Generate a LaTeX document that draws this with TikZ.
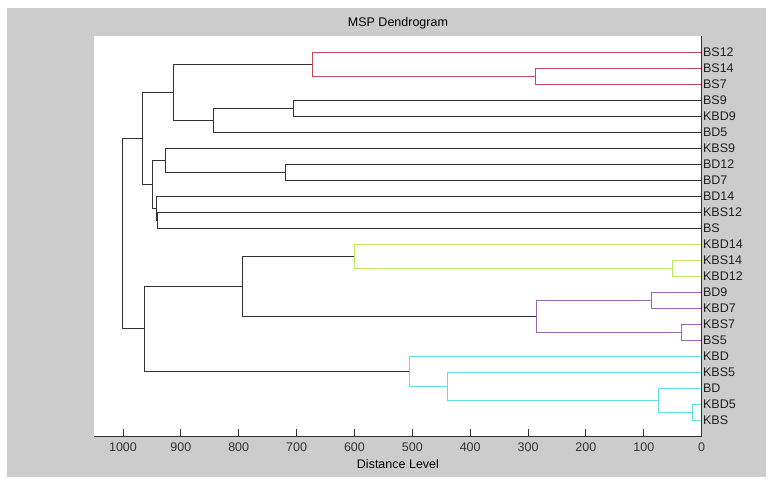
\documentclass[tikz,border=0pt]{standalone}
\usepackage{fontspec}
\setmainfont{Liberation Sans}
\usetikzlibrary{calc}
\definecolor{figgray}{RGB}{204,204,204}
\definecolor{linkgray}{RGB}{50,50,50}
\definecolor{clred}{RGB}{192,74,86}
\definecolor{clgreen}{RGB}{186,232,100}
\definecolor{clpurple}{RGB}{150,104,182}
\definecolor{clcyan}{RGB}{96,222,224}
\newcommand{\mergeat}[5]{%
  \coordinate (#5h) at (#2,0);
  \draw[#1] (#3) -- (#3 -| #5h) -- (#4 -| #5h) -- (#4);
  \coordinate (#5) at ($(#3 -| #5h)!0.5!(#4 -| #5h)$);
}

\begin{document}
\begin{tikzpicture}[x=-0.5787bp, y=-16bp, line width=0.9bp,
  leaf/.style={anchor=west, inner sep=1bp, text=black!88},
  ticklabel/.style={anchor=north, inner sep=0pt, yshift=-6.3bp, text=black!80},
  every node/.append style={font=\fontsize{12.5bp}{14bp}\selectfont}]
  \useasboundingbox (1212.5,-2.25) rectangle (-130.2,28.0625);
  \fill[figgray] (1200.5,-1.75) rectangle (-111.2,27.5625);
  \coordinate (TL) at (1050,0);
  \coordinate (BL) at (1050,25);
  \coordinate (TR) at (0,0);
  \coordinate (BR) at (0,25);
  \fill[white] (TL) rectangle (BR);
  \node[anchor=base] (title) at (524.8,-0.594) {MSP Dendrogram};
  \node[anchor=base] (xlabel) at (524.8,27.06) {Distance Level};
  \foreach \name [count=\i] in {BS12,BS14,BS7,BS9,KBD9,BD5,KBS9,BD12,BD7,BD14,KBS12,BS,
      KBD14,KBS14,KBD12,BD9,KBD7,KBS7,BS5,KBD,KBS5,BD,KBD5,KBS} {
    \coordinate (L\i) at (0,\i);
    \node[leaf] (n\i) at (L\i) {\name};
  }
  \mergeat{clred}{287.5}{L2}{L3}{r1}
  \mergeat{clred}{672.9}{L1}{r1}{r2}
  \mergeat{linkgray}{706.2}{L4}{L5}{a1}
  \mergeat{linkgray}{843.3}{a1}{L6}{a2}
  \mergeat{linkgray}{912.4}{r2}{a2}{a3}
  \mergeat{linkgray}{719.5}{L8}{L9}{b1}
  \mergeat{linkgray}{927.4}{L7}{b1}{b2}
  \mergeat{linkgray}{940.5}{L11}{L12}{b3}
  \mergeat{linkgray}{942.4}{L10}{b3}{b4}
  \mergeat{linkgray}{949.3}{b2}{b4}{b5}
  \mergeat{linkgray}{966.6}{a3}{b5}{upper}
  \mergeat{clgreen}{50.1}{L14}{L15}{g1}
  \mergeat{clgreen}{600.3}{L13}{g1}{g2}
  \mergeat{clpurple}{85.9}{L16}{L17}{p1}
  \mergeat{clpurple}{34.6}{L18}{L19}{p2}
  \mergeat{clpurple}{285.8}{p1}{p2}{p3}
  \mergeat{linkgray}{793.8}{g2}{p3}{c1}
  \mergeat{clcyan}{16.2}{L23}{L24}{q1}
  \mergeat{clcyan}{74.3}{L22}{q1}{q2}
  \mergeat{clcyan}{440.1}{L21}{q2}{q3}
  \mergeat{clcyan}{505.3}{L20}{q3}{q4}
  \mergeat{linkgray}{963.7}{c1}{q4}{lower}
  \mergeat{linkgray}{1000.5}{upper}{lower}{root}
  \draw[linkgray] (BL) -- (BR) -- (TR);
  \foreach \t in {0,100,...,1000} {
    \coordinate (k\t) at (\t,25);
    \draw[linkgray] (k\t) -- ++(0,-0.4375);
    \node[ticklabel] (t\t) at (k\t) {\t};
  }
\end{tikzpicture}
\end{document}
